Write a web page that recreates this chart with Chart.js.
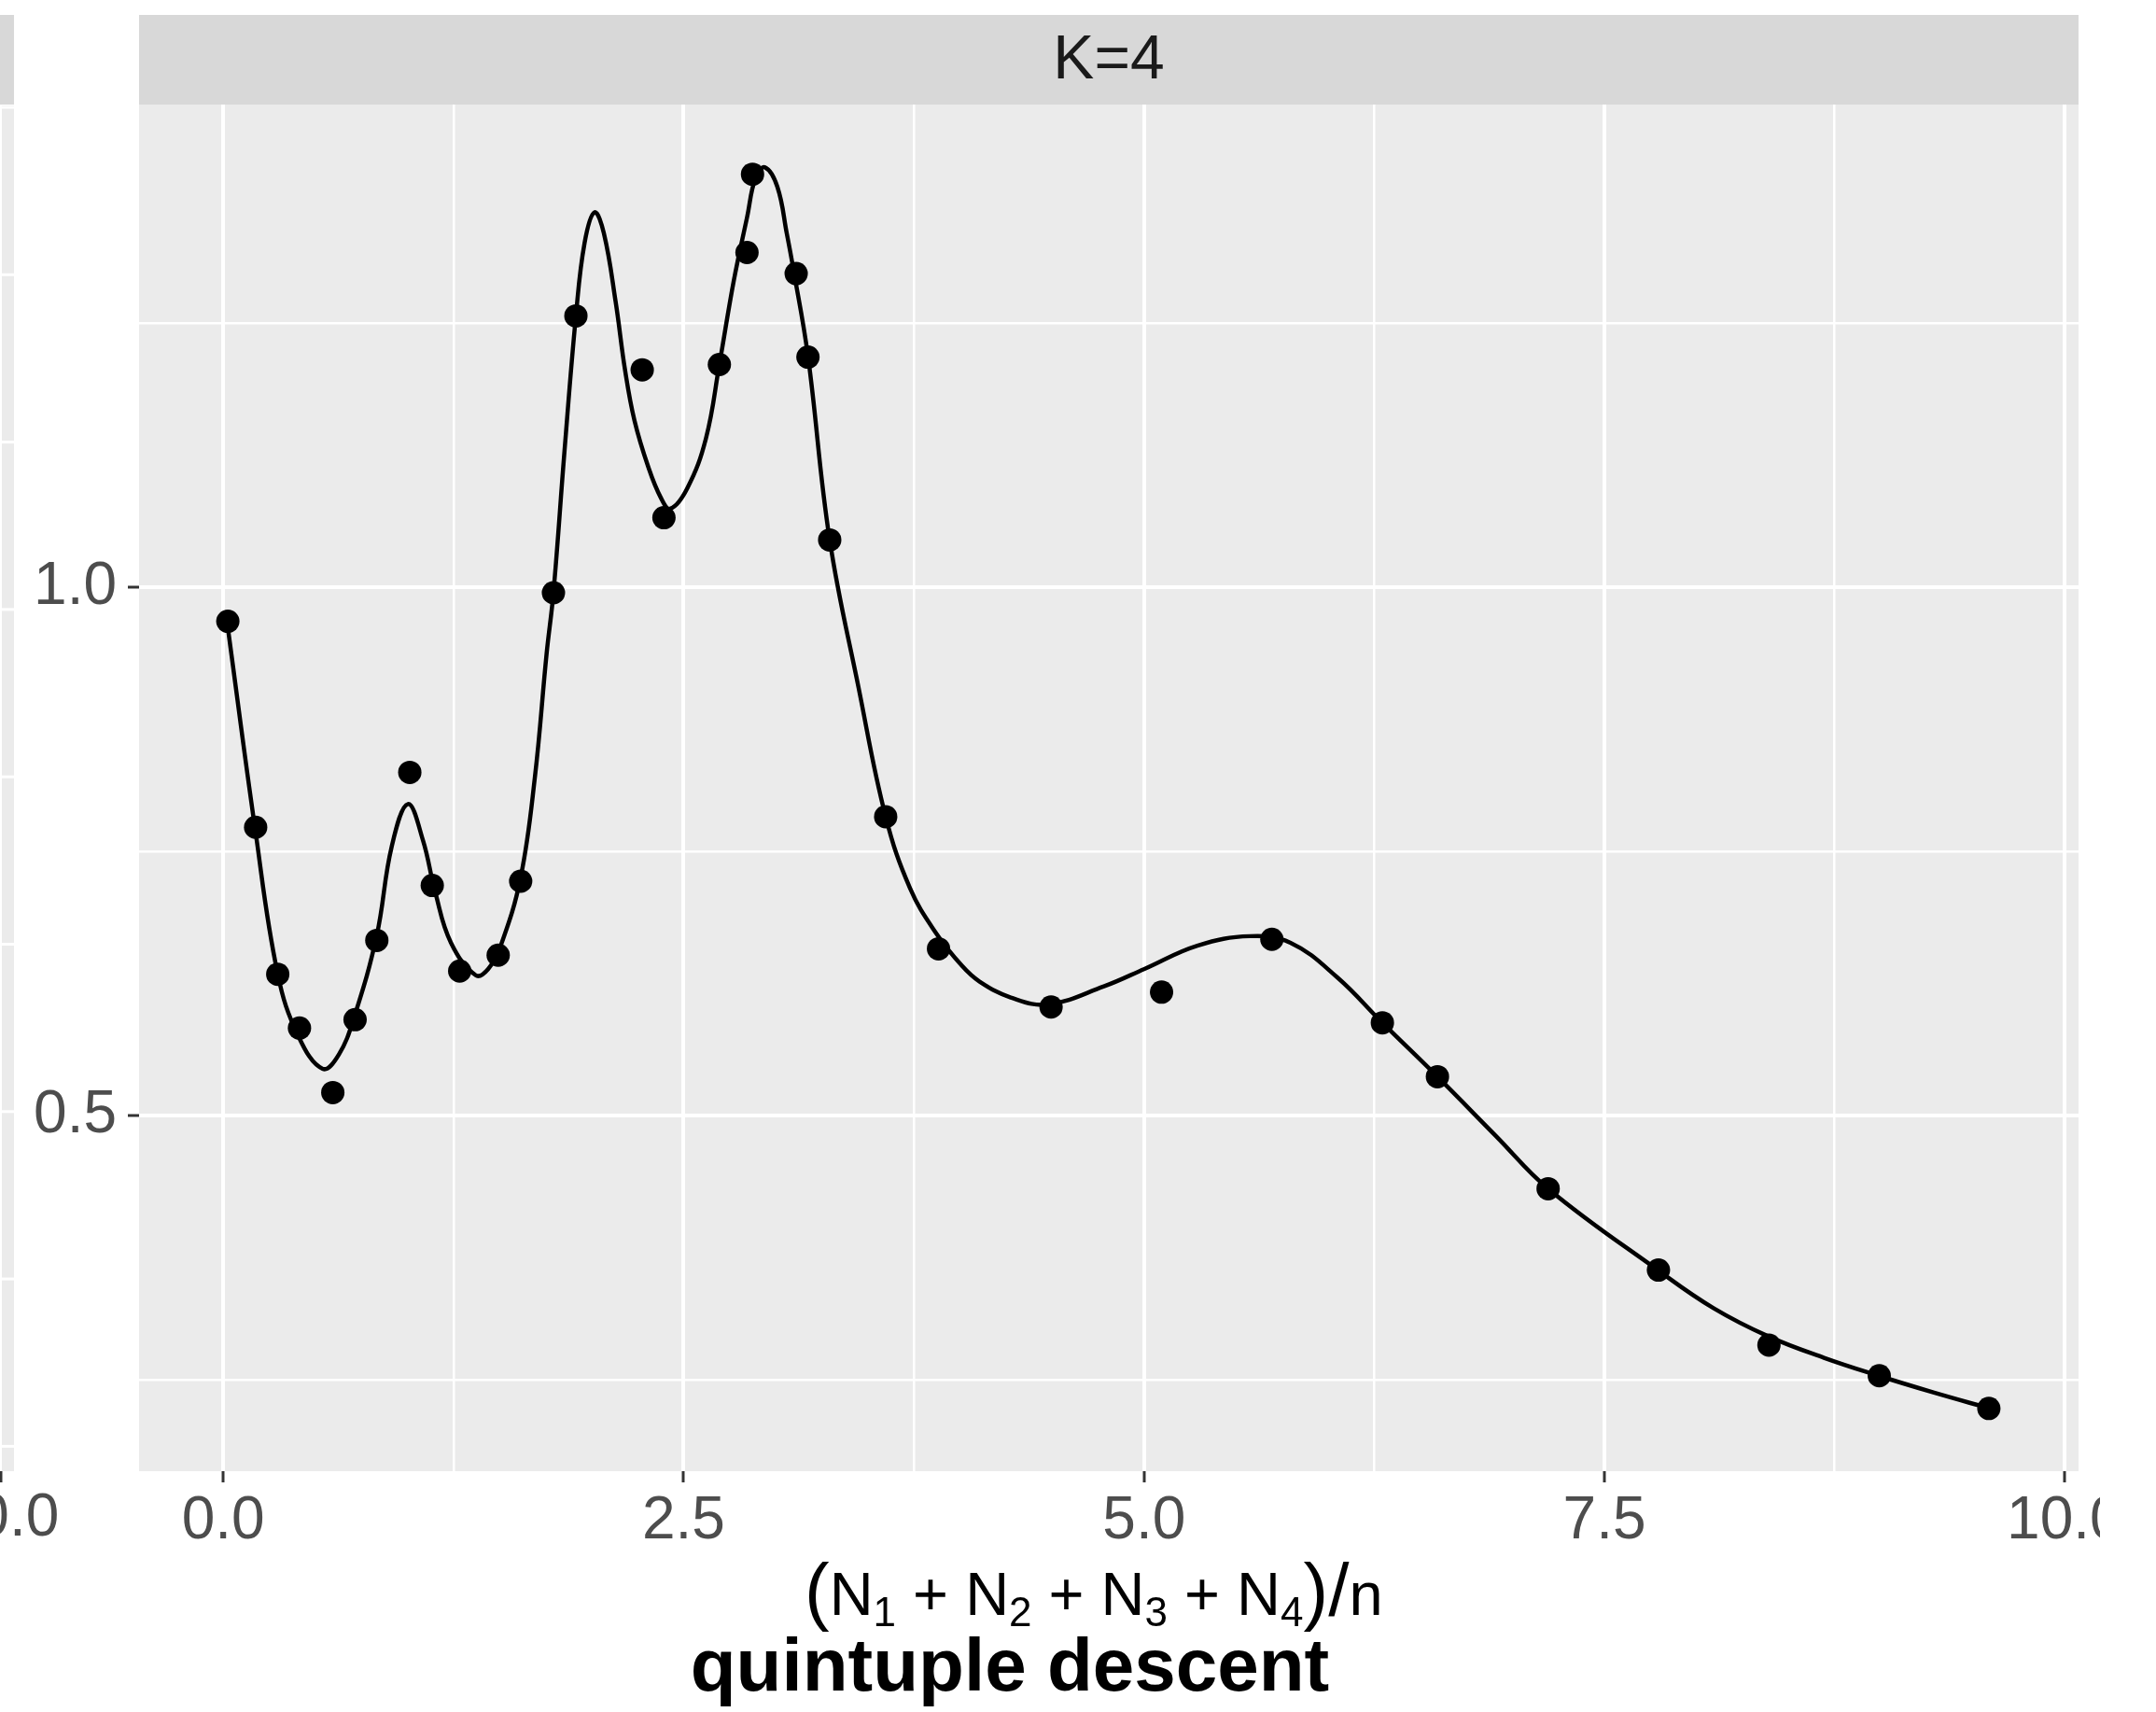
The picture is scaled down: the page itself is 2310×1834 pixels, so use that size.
<!DOCTYPE html>
<html>
<head>
<meta charset="utf-8">
<script src="https://cdn.jsdelivr.net/npm/chart.js@4.4.0/dist/chart.umd.min.js"></script>
<style>
  body { margin: 0; background: #fff; }
  canvas { display: block; }
</style>
</head>
<body>
<canvas id="chart" width="2310" height="1834"></canvas>
<script>
// observed points
const pointX = [0.025, 0.176, 0.296, 0.414, 0.595, 0.716, 0.834, 1.013, 1.135, 1.284, 1.493, 1.615,
  1.793, 1.915, 2.275, 2.393, 2.694, 2.844, 2.874, 3.111, 3.175, 3.293, 3.597, 3.884,
  4.495, 5.095, 5.694, 6.294, 6.593, 7.194, 7.793, 8.393, 8.992, 9.587];
const pointY = [0.968, 0.773, 0.634, 0.583, 0.522, 0.591, 0.666, 0.825, 0.718, 0.637, 0.652, 0.722,
  0.995, 1.257, 1.206, 1.066, 1.211, 1.317, 1.391, 1.297, 1.218, 1.045, 0.783, 0.658,
  0.603, 0.617, 0.667, 0.588, 0.537, 0.431, 0.354, 0.283, 0.254, 0.223];

// smooth fit
const curveX = [0.025, 0.172, 0.296, 0.409, 0.54, 0.628, 0.713, 0.834, 0.915, 1.003, 1.084, 1.152,
  1.236, 1.371, 1.439, 1.507, 1.615, 1.692, 1.756, 1.793, 1.853, 1.915, 1.962, 2.016, 2.067,
  2.131, 2.182, 2.233, 2.308, 2.376, 2.427, 2.520, 2.621, 2.694, 2.773, 2.844, 2.891, 2.942,
  3.009, 3.060, 3.094, 3.175, 3.293, 3.450, 3.597, 3.730, 3.870, 4.011, 4.107, 4.276, 4.478,
  4.782, 5.002, 5.289, 5.576, 5.795, 6.049, 6.294, 6.593, 6.910, 7.194, 7.793, 8.092, 8.393,
  8.692, 8.992, 9.290, 9.587];
const curveY = [0.962, 0.773, 0.634, 0.575, 0.5445, 0.558, 0.5945, 0.671, 0.755, 0.795, 0.761, 0.711,
  0.664, 0.633, 0.639, 0.661, 0.7256, 0.820, 0.9375, 0.995, 1.129, 1.257, 1.326, 1.355, 1.335,
  1.270, 1.2055, 1.158, 1.114, 1.085, 1.0745, 1.094, 1.141, 1.211, 1.291, 1.350, 1.388, 1.3975,
  1.379, 1.335, 1.303, 1.219, 1.045, 0.905, 0.783, 0.715, 0.673, 0.642, 0.627, 0.612, 0.6054,
  0.6225, 0.639, 0.661, 0.670, 0.6637, 0.631, 0.588, 0.537, 0.481, 0.431, 0.3536, 0.318, 0.291,
  0.271, 0.2538, 0.238, 0.2233];

const xMajor = [0, 2.5, 5, 7.5, 10];
const xMinor = [1.25, 3.75, 6.25, 8.75];
const yMajor = [0.5, 1.0];
const yMinor = [0.25, 0.75, 1.25];

const panelLabel = 'K=4';
// plotmath-like title: [text, kind]
const xTitleParts = [['(', 'big'], ['N', 'n'], ['1', 'sub'], [' + ', 'n'], ['N', 'n'], ['2', 'sub'],
  [' + ', 'n'], ['N', 'n'], ['3', 'sub'], [' + ', 'n'], ['N', 'n'], ['4', 'sub'], [')', 'big'],
  ['/', 'big'], ['n', 'n']];
const caption = 'quintuple descent';

const FONT = '"Liberation Sans", Arial, Helvetica, sans-serif';

const sortNum = (a, b) => a - b;
const xGrid = xMajor.concat(xMinor).sort(sortNum);
const yGrid = yMajor.concat(yMinor).sort(sortNum);

const ggPanel = {
  id: 'ggPanel',
  beforeDraw(chart) {
    const { ctx, chartArea: a } = chart;
    ctx.save();
    ctx.fillStyle = '#EBEBEB';
    ctx.fillRect(a.left, a.top, a.right - a.left, a.bottom - a.top);

    // facet strip
    ctx.fillStyle = '#D8D8D8';
    ctx.fillRect(a.left, 16, a.right - a.left, a.top - 16);
    ctx.fillStyle = '#1A1A1A';
    ctx.font = '66px ' + FONT;
    ctx.textAlign = 'center';
    ctx.textBaseline = 'middle';
    ctx.fillText(panelLabel, (a.left + a.right) / 2, (16 + a.top) / 2 + 2);

    // edge of the neighbouring facet, cut off by the crop
    ctx.fillStyle = '#D8D8D8';
    ctx.fillRect(0, 16, 15, a.top - 16);
    ctx.fillStyle = '#EBEBEB';
    ctx.fillRect(2, a.top + 1, 13, a.bottom - a.top - 1);
    ctx.strokeStyle = '#FFFFFF';
    ctx.lineWidth = 3;
    for (let y = 115; y < a.bottom; y += 179.3) {
      ctx.beginPath();
      ctx.moveTo(2, y);
      ctx.lineTo(15, y);
      ctx.stroke();
    }
    ctx.strokeStyle = '#333333';
    ctx.beginPath();
    ctx.moveTo(1, a.bottom);
    ctx.lineTo(1, a.bottom + 12);
    ctx.stroke();
    ctx.restore();
  },
  afterDraw(chart) {
    const { ctx, chartArea: a } = chart;
    ctx.save();
    // neighbour's last tick label, cropped
    ctx.fillStyle = '#4D4D4D';
    ctx.font = '64px ' + FONT;
    ctx.textAlign = 'center';
    ctx.textBaseline = 'alphabetic';
    ctx.fillText('10.0', 1, 1645);

    // crop on the right side
    ctx.fillStyle = '#FFFFFF';
    ctx.fillRect(2250, a.bottom + 14, 60, 80);

    // axis title with subscripts
    const base = 1730;
    let x = 862;
    ctx.fillStyle = '#000000';
    ctx.textAlign = 'left';
    xTitleParts.forEach(([t, kind]) => {
      let size = 65, dy = 0;
      if (kind === 'sub') { size = 44; dy = 12; }
      if (kind === 'big') { size = 80; dy = 1; }
      ctx.font = size + 'px ' + FONT;
      ctx.fillText(t, x, base + dy);
      x += ctx.measureText(t).width;
    });

    // caption under the plot
    ctx.font = 'bold 80px ' + FONT;
    ctx.textAlign = 'center';
    ctx.fillText(caption, 1082, 1811);
    ctx.restore();
  }
};

new Chart(document.getElementById('chart'), {
  type: 'scatter',
  data: {
    datasets: [
      {
        type: 'line',
        data: curveX.map((x, i) => ({ x: x, y: curveY[i] })),
        borderColor: '#000000',
        borderWidth: 4.5,
        pointRadius: 0,
        tension: 0.4,
        fill: false,
        order: 2
      },
      {
        data: pointX.map((x, i) => ({ x: x, y: pointY[i] })),
        backgroundColor: '#000000',
        borderWidth: 0,
        pointRadius: 12.5,
        pointHoverRadius: 12.5,
        order: 1
      }
    ]
  },
  options: {
    responsive: false,
    animation: false,
    devicePixelRatio: 1,
    events: [],
    layout: { padding: { left: 0, top: 112, right: 83, bottom: 0 } },
    plugins: { legend: { display: false }, tooltip: { enabled: false } },
    scales: {
      x: {
        type: 'linear',
        min: -0.457,
        max: 10.074,
        afterBuildTicks: scale => { scale.ticks = xGrid.map(v => ({ value: v })); },
        afterFit: scale => { scale.height = 258; },
        border: { display: false },
        grid: {
          color: '#FFFFFF',
          lineWidth: c => xMajor.includes(c.tick.value) ? 4 : 2.5,
          drawTicks: true,
          tickLength: 12,
          tickWidth: 3,
          tickColor: c => xMajor.includes(c.tick.value) ? '#333333' : 'rgba(0,0,0,0)'
        },
        ticks: {
          autoSkip: false,
          maxRotation: 0,
          padding: 4,
          color: '#4D4D4D',
          font: { family: FONT, size: 64 },
          callback: v => xMajor.includes(v) ? v.toFixed(1) : ''
        }
      },
      y: {
        type: 'linear',
        min: 0.1637,
        max: 1.457,
        afterBuildTicks: scale => { scale.ticks = yGrid.map(v => ({ value: v })); },
        afterFit: scale => { scale.width = 149; },
        border: { display: false },
        grid: {
          color: '#FFFFFF',
          lineWidth: c => yMajor.includes(c.tick.value) ? 4 : 2.5,
          drawTicks: true,
          tickLength: 12,
          tickWidth: 3,
          tickColor: c => yMajor.includes(c.tick.value) ? '#333333' : 'rgba(0,0,0,0)'
        },
        ticks: {
          autoSkip: false,
          padding: 12,
          color: '#4D4D4D',
          font: { family: FONT, size: 64 },
          callback: v => yMajor.includes(v) ? v.toFixed(1) : ''
        }
      }
    }
  },
  plugins: [ggPanel]
});
</script>
</body>
</html>
